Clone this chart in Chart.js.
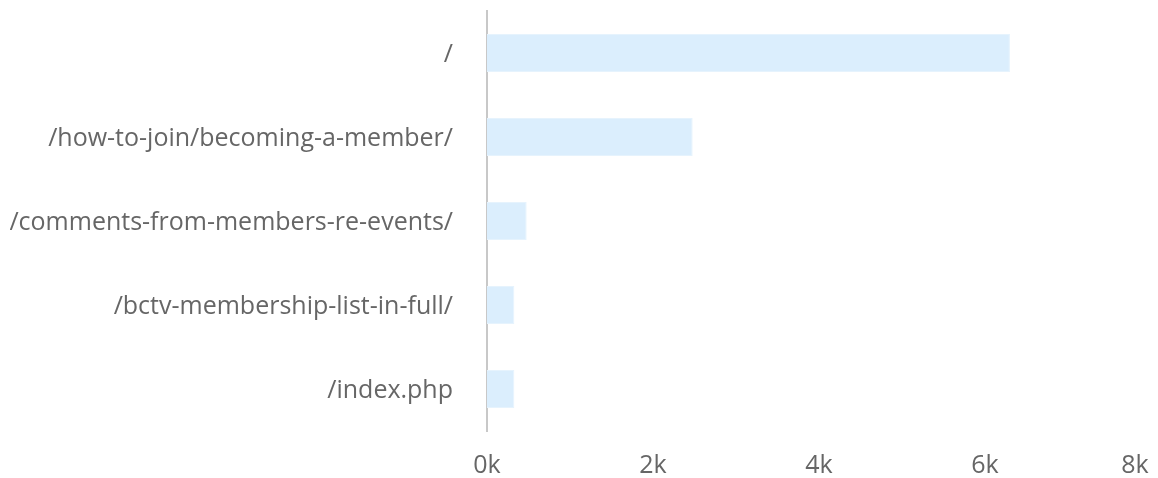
<!DOCTYPE html>
<html>
<head>
<meta charset="utf-8">
<script src="https://cdn.jsdelivr.net/npm/chart.js@4/dist/chart.umd.min.js"></script>
<style>
  html, body { margin: 0; padding: 0; background: #fff; }
  #wrap { width: 1158px; height: 478px; }
</style>
</head>
<body>
<div id="wrap"><canvas id="c" width="1158" height="478"></canvas></div>
<script>
const categories = ["/", "/how-to-join/becoming-a-member/", "/comments-from-members-re-events/", "/bctv-membership-list-in-full/", "/index.php"];
const pageviews = [6300, 2478, 478, 330, 330];
const xTicks = [0, 2000, 4000, 6000, 8000];

const shiftLastLabel = {
  id: 'shiftLastLabel',
  beforeDraw(chart) {
    const items = chart.scales.x.getLabelItems();
    if (items.length) {
      const last = items[items.length - 1];
      if (!last._shifted) { last.options.translation[0] -= 16; last._shifted = true; }
    }
  }
};

new Chart(document.getElementById('c'), {
  type: 'bar',
  data: {
    labels: categories,
    datasets: [{
      data: pageviews,
      backgroundColor: '#dbeefd',
      borderColor: '#e6f3fd',
      borderWidth: 1,
      barPercentage: 0.9,
      categoryPercentage: 0.5
    }]
  },
  options: {
    indexAxis: 'y',
    responsive: false,
    animation: false,
    layout: { autoPadding: false, padding: { left: 10, right: 7, top: 11, bottom: 0 } },
    plugins: { legend: { display: false }, tooltip: { enabled: false } },
    scales: {
      y: {
        grid: { display: false, drawTicks: false },
        border: { display: true, color: '#c8c8c8', width: 2 },
        ticks: { color: '#666', font: { family: 'Open Sans', size: 25 }, padding: 34, labelOffset: 2 },
        afterFit(scale) {
          scale.width = 477;
          scale.paddingTop = 0; scale.paddingBottom = 0;
          scale.paddingLeft = 0; scale.paddingRight = 0;
        }
      },
      x: {
        min: 0, max: 8000,
        grid: { display: false, drawTicks: false },
        border: { display: false },
        afterBuildTicks(scale) { scale.ticks = xTicks.map(v => ({ value: v })); },
        ticks: {
          color: '#666', font: { family: 'Open Sans', size: 25 }, padding: 20,
          maxRotation: 0, autoSkip: false,
          callback: (v) => (v / 1000) + 'k'
        },
        afterFit(scale) {
          scale.height = 47;
          scale.paddingLeft = 0; scale.paddingRight = 0;
          scale.paddingTop = 0; scale.paddingBottom = 0;
        }
      }
    }
  },
  plugins: [shiftLastLabel]
});
</script>
</body>
</html>
